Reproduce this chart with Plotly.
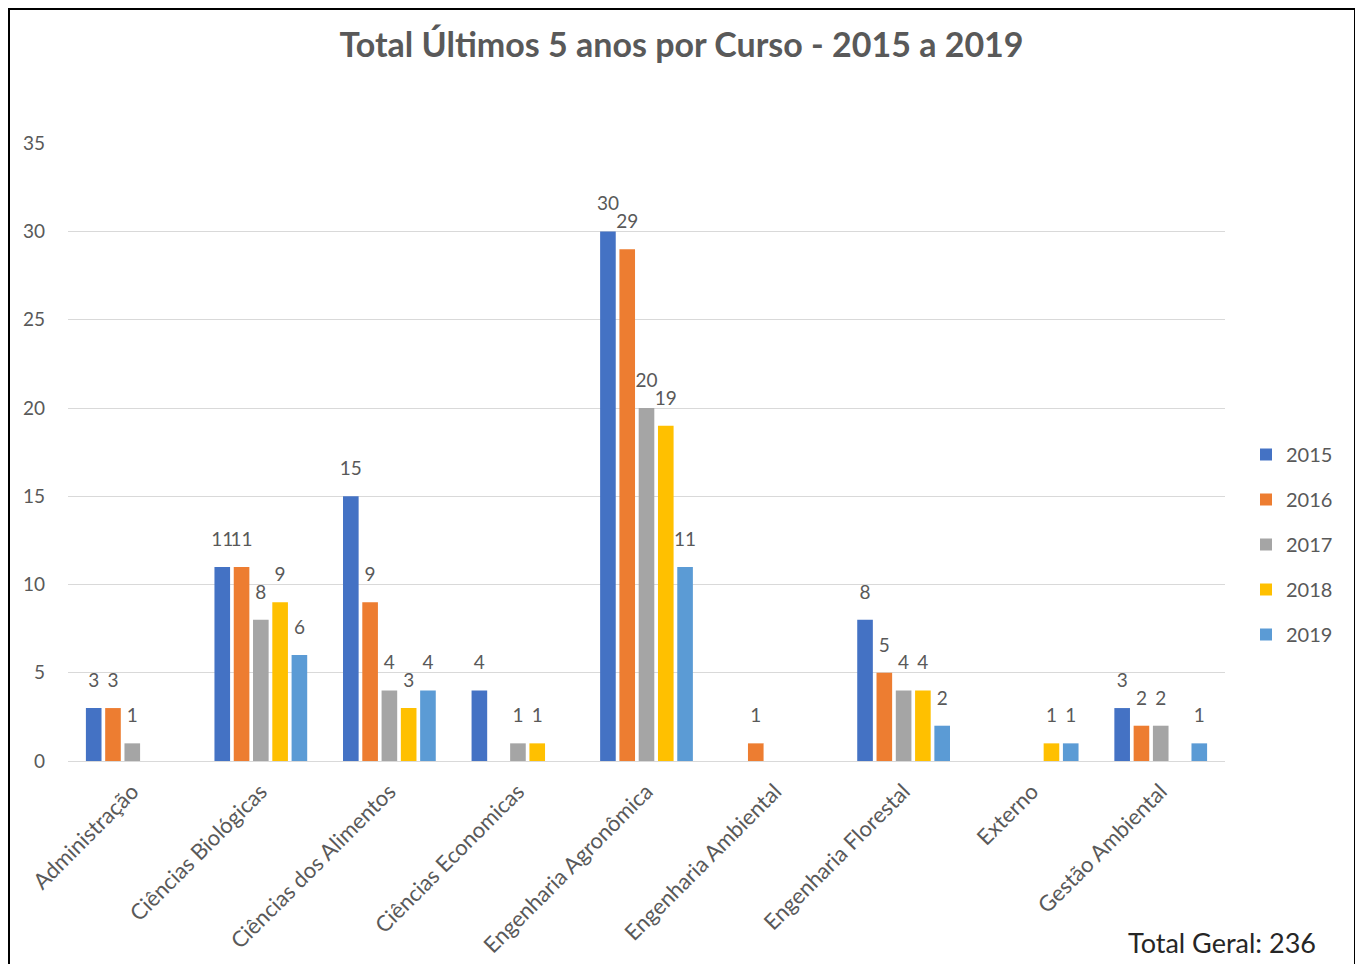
import plotly.graph_objects as go

categories = ["Administração", "Ciências Biológicas", "Ciências dos Alimentos",
              "Ciências Economicas", "Engenharia Agronômica", "Engenharia Ambiental",
              "Engenharia Florestal", "Externo", "Gestão Ambiental"]
years = ["2015", "2016", "2017", "2018", "2019"]
v2015 = [3, 11, 15, 4, 30, 0, 8, 0, 3]
v2016 = [3, 11, 9, 0, 29, 1, 5, 0, 2]
v2017 = [1, 8, 4, 1, 20, 0, 4, 0, 2]
v2018 = [0, 9, 3, 1, 19, 0, 4, 1, 0]
v2019 = [0, 6, 4, 0, 11, 0, 2, 1, 1]
series = [v2015, v2016, v2017, v2018, v2019]
colors = ["#4472C4", "#ED7D31", "#A5A5A5", "#FFC000", "#5B9BD5"]
total_label = "Total Geral: 236"

# page has an 8px body margin; all positions below are in page px, converted
OFF = 8
W, H = 1347, 956
PL, PR, PT, PB = 68, 1225, 143, 761   # plot area in page px
ml = PL - OFF
mr = W - (PR - OFF)
mt = PT - OFF
mb = H - (PB - OFF)
FONT = "Lato"
GRAY = "#595959"
LABEL_LIFT = 0.8  # extra gap (in axis units) between bar top and its label

pw = W - ml - mr
ph = H - mt - mb
def px_x(p):
    return (p - OFF - ml) / pw
def px_y(p):
    return (H - mb - (p - OFF)) / ph

fig = go.Figure()
for yr, vals, c in zip(years, series, colors):
    fig.add_trace(go.Bar(
        name=yr, x=categories, y=[v if v else None for v in vals],
        marker=dict(color=c, line=dict(width=0)),
        offsetgroup=yr, legendgroup=yr, hoverinfo="x+y+name",
    ))
    # transparent carrier bars that hold the value labels a little above the bars
    fig.add_trace(go.Bar(
        name=yr, x=categories, y=[(v + LABEL_LIFT) if v else None for v in vals],
        marker=dict(color="rgba(0,0,0,0)", line=dict(width=0)),
        text=[str(v) if v else "" for v in vals],
        textposition="outside", cliponaxis=False, constraintext="none",
        textfont=dict(family=FONT, size=19, color=GRAY),
        offsetgroup=yr, legendgroup=yr, showlegend=False, hoverinfo="skip",
    ))

fig.update_layout(
    width=W, height=H,
    margin=dict(l=ml, r=mr, t=mt, b=mb, pad=0, autoexpand=False),
    paper_bgcolor="white", plot_bgcolor="white",
    barmode="group", bargap=0.25, bargroupgap=0.19,
    title=dict(text="<b>Total Últimos 5 anos por Curso - 2015 a 2019</b>",
               x=0.5, xanchor="center", y=1 - (45 - OFF) / H, yanchor="middle",
               font=dict(family=FONT, size=34, color=GRAY)),
    legend=dict(x=px_x(1246), y=px_y(435), xanchor="left", yanchor="top",
                font=dict(family=FONT, size=20, color=GRAY),
                traceorder="grouped", tracegroupgap=16,
                itemwidth=30, bgcolor="rgba(0,0,0,0)"),
    xaxis=dict(tickangle=-45, tickfont=dict(family=FONT, size=22, color=GRAY),
               showgrid=False, showline=True, linecolor="#D9D9D9", linewidth=1,
               ticks="", ticklabelstandoff=8, automargin=False),
    yaxis=dict(range=[0, 35.02], dtick=5, tickfont=dict(family=FONT, size=19, color=GRAY),
               showgrid=True, gridcolor="#D9D9D9", gridwidth=1, zeroline=False,
               ticks="", ticklabelstandoff=22, automargin=False),
    showlegend=True,
)

fig.add_annotation(text=total_label, xref="paper", yref="paper",
                   x=px_x(1318), y=px_y(942), xanchor="right", yanchor="middle",
                   showarrow=False, font=dict(family=FONT, size=27, color="#262626"))

# frame around the chart (left, top, right edges; bottom is cut off)
fig.add_shape(type="rect", xref="paper", yref="paper",
              x0=px_x(9), x1=px_x(1355), y0=px_y(1000), y1=px_y(9),
              line=dict(color="black", width=2), layer="above")

fig.write_html("out.html")
